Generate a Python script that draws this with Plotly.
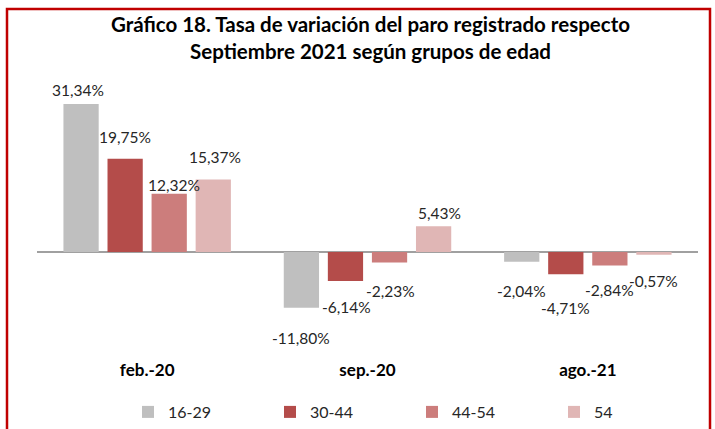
import plotly.graph_objects as go

categories = ["feb.-20", "sep.-20", "ago.-21"]
series_names = ["16-29", "30-44", "44-54", "54"]
values_16_29 = [31.34, -11.80, -2.04]
values_30_44 = [19.75, -6.14, -4.71]
values_44_54 = [12.32, -2.23, -2.84]
values_54 = [15.37, 5.43, -0.57]
series_values = [values_16_29, values_30_44, values_44_54, values_54]

colors = ["#BFBFBF", "#B44C4A", "#CC7D7C", "#E0B6B5"]
FONT = "Lato, Carlito, Calibri, sans-serif"

# label pixel offsets (style only)
label_dy = [[14, -30, -29], [22, -26, -34], [9, -28, -25], [22, 13, -26]]
label_dx = [[-3, 0, 0], [0, 1, 0], [5, 1, 0], [2, 6, 0]]

W, H = 715, 429
L, R, T, B = 37, 17, 80, 79
plot_h = H - T - B
plot_w = W - L - R
ppu = 4.72
zero_px = 252
ymin = -(T + plot_h - zero_px) / ppu
ymax = (zero_px - T) / ppu

legend_x_px = [128, 270, 412, 554]
legend_keys = ["legend", "legend2", "legend3", "legend4"]

fig = go.Figure()
xs = list(range(len(categories)))
for j, (name, vals) in enumerate(zip(series_names, series_values)):
    fig.add_trace(go.Bar(x=xs, y=vals, name=name, marker_color=colors[j],
                         marker_line_width=0, legend=legend_keys[j]))

bargap, groupgap = 0.2, 0.2
slot = (1 - bargap) / len(series_names)
annotations = []
for j, vals in enumerate(series_values):
    for i, v in enumerate(vals):
        xpos = i + (j - (len(series_names) - 1) / 2) * slot
        annotations.append(dict(
            x=xpos, y=v, xref="x", yref="y",
            text=f"{v:.2f}".replace(".", ",") + "%",
            showarrow=False, yshift=label_dy[j][i], xshift=label_dx[j][i],
            font=dict(family=FONT, size=15.5, color="#262626")))

annotations.append(dict(
    text="<b>Gráfico 18. Tasa de variación del paro registrado respecto<br>Septiembre 2021 según grupos de edad</b>",
    xref="paper", yref="paper", x=(370 - L) / plot_w, xanchor="center",
    y=(T + plot_h - 10) / plot_h, yanchor="top", showarrow=False,
    font=dict(family=FONT, size=20.5, color="#000000")))

layout_legends = {}
for j, key in enumerate(legend_keys):
    layout_legends[key] = dict(
        orientation="h", x=legend_x_px[j] / W, xref="container", xanchor="left",
        y=(H - 412) / H, yref="container", yanchor="middle", itemwidth=30,
        font=dict(family=FONT, size=16, color="#262626"),
        bgcolor="rgba(0,0,0,0)")

fig.update_layout(
    width=W, height=H,
    margin=dict(l=L, r=R, t=T, b=B, autoexpand=False),
    paper_bgcolor="white", plot_bgcolor="white",
    barmode="group", bargap=bargap, bargroupgap=groupgap,
    xaxis=dict(tickmode="array", tickvals=xs,
               ticktext=[f"<b>{c}</b>" for c in categories],
               range=[-0.5, len(categories) - 0.5], showgrid=False,
               showline=False, zeroline=False, ticks="",
               ticklabelstandoff=8,
               tickfont=dict(family=FONT, size=17, color="#000000")),
    yaxis=dict(range=[ymin, ymax], showgrid=False, showticklabels=False,
               zeroline=True, zerolinecolor="#A0A0A0", zerolinewidth=2,
               showline=False, ticks=""),
    annotations=annotations,
    showlegend=True,
    **layout_legends,
)

def px_to_paper_x(px):
    return (px - L) / plot_w
def px_to_paper_y(py):
    return (T + plot_h - py) / plot_h

fig.add_shape(type="path", xref="paper", yref="paper",
              path=(f"M {px_to_paper_x(7)},{px_to_paper_y(440)} "
                    f"L {px_to_paper_x(7)},{px_to_paper_y(9)} "
                    f"L {px_to_paper_x(710)},{px_to_paper_y(9)} "
                    f"L {px_to_paper_x(710)},{px_to_paper_y(440)}"),
              line=dict(color="#C00000", width=2.5), layer="above")

fig.write_html("out.html", config={"displayModeBar": False},
               post_script="document.body.style.margin='0';document.body.style.overflow='hidden';")
